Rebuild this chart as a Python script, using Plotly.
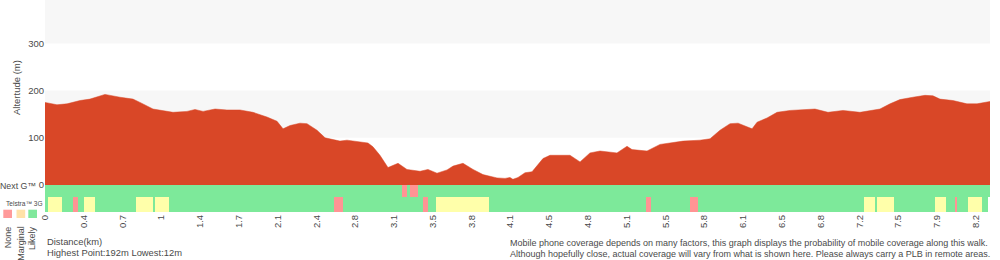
import plotly.graph_objects as go

# ---------------- data ----------------
distance_km = [0.000, 0.106, 0.195, 0.310, 0.398, 0.531, 0.664, 0.779, 0.841, 0.956,
               1.133, 1.257, 1.328, 1.399, 1.505, 1.611, 1.726, 1.841, 1.965, 2.054,
               2.107, 2.169, 2.257, 2.319, 2.408, 2.479, 2.611, 2.673, 2.859, 2.903,
               2.965, 3.036, 3.125, 3.204, 3.320, 3.390, 3.470, 3.559, 3.612, 3.700,
               3.789, 3.877, 4.001, 4.072, 4.116, 4.142, 4.187, 4.249, 4.311, 4.408,
               4.470, 4.647, 4.736, 4.824, 4.913, 5.063, 5.152, 5.196, 5.329, 5.444,
               5.648, 5.798, 5.887, 5.975, 6.064, 6.135, 6.259, 6.303, 6.391, 6.480,
               6.595, 6.816, 6.931, 7.064, 7.214, 7.391, 7.480, 7.568, 7.683, 7.790,
               7.860, 7.922, 8.037, 8.161, 8.250, 8.365]
altitude_m = [175, 170, 172, 179, 182, 192, 186, 182, 175, 161,
              154, 156, 160, 156, 161, 159, 159, 154, 144, 135,
              119, 126, 131, 130, 116, 100, 93, 95, 89, 81,
              63, 37, 46, 33, 29, 33, 25, 32, 40, 46,
              33, 22, 15, 14, 16, 12, 16, 26, 28, 56,
              63, 63, 49, 68, 72, 68, 82, 75, 72, 86,
              93, 95, 98, 116, 130, 131, 119, 133, 142, 154,
              158, 161, 154, 158, 154, 161, 172, 181, 186, 190,
              189, 182, 179, 172, 172, 177]

total_km = 8.365
tick_step_km = 0.3433
tick_labels = ["0", "0.4", "0.7", "1", "1.4", "1.7", "2.1", "2.4", "2.8", "3.1",
               "3.5", "3.8", "4.1", "4.5", "4.8", "5.1", "5.5", "5.8", "6.1", "6.5",
               "6.8", "7.2", "7.5", "7.9", "8.2"]
alt_ticks = [0, 100, 200, 300]

# coverage segments (km start, km end, status)
nextg_start = [3.158, 3.231]
nextg_end = [3.204, 3.299]
nextg_status = ["None", "None"]

g3_start = [0.029, 0.248, 0.345, 0.806, 0.974, 2.558, 3.349, 3.459, 5.320, 5.710,
            7.252, 7.365, 7.878, 8.055, 8.173, 8.345]
g3_end = [0.150, 0.289, 0.443, 0.953, 1.095, 2.635, 3.388, 3.930, 5.364, 5.781,
          7.347, 7.513, 7.976, 8.073, 8.292, 8.365]
g3_status = ["Marginal", "None", "Marginal", "Marginal", "Marginal", "None", "None",
             "Marginal", "None", "None", "Marginal", "Marginal", "Marginal", "None",
             "Marginal", "NoData"]

legend_labels = ["None", "Marginal", "Likely"]

# ---------------- style ----------------
AREA = "#D94727"
COL = {"None": "#FF9494", "Marginal": "#FFFFAA", "Likely": "#7DE99A", "NoData": "#FFFFFF"}
SWATCH = {"None": "#FF9A9A", "Marginal": "#FFE2A8", "Likely": "#80E89C"}
TXT = "#4a4a4a"
FONT = "Liberation Sans, Arial, sans-serif"

W, H = 1000, 260
ML, MR, MT, MB = 45, 10, 0, 48
PW, PH = W - ML - MR, H - MT - MB
COV_PX = 27
NEXTG_PX = 12
def px(x):
    return (x - ML) / PW
def py(y):
    return (PH - y) / PH

fig = go.Figure()

fig.add_trace(go.Scatter(x=distance_km, y=altitude_m, mode="lines", fill="tozeroy",
                         fillcolor=AREA, line=dict(color=AREA, width=0.5),
                         hoverinfo="skip", showlegend=False))

g3_h = (COV_PX - NEXTG_PX) / COV_PX
# background: Likely everywhere
fig.add_trace(go.Bar(x=[total_km / 2], y=[1], base=[0], width=[total_km],
                     marker=dict(color=COL["Likely"], line=dict(width=0)),
                     yaxis="y2", showlegend=False, hoverinfo="skip"))
fig.add_trace(go.Bar(x=[(a + b) / 2 for a, b in zip(g3_start, g3_end)],
                     y=[g3_h] * len(g3_start), base=[0] * len(g3_start),
                     width=[b - a for a, b in zip(g3_start, g3_end)],
                     marker=dict(color=[COL[s] for s in g3_status], line=dict(width=0)),
                     yaxis="y2", showlegend=False, hoverinfo="skip"))
fig.add_trace(go.Bar(x=[(a + b) / 2 for a, b in zip(nextg_start, nextg_end)],
                     y=[1 - g3_h] * len(nextg_start), base=[g3_h] * len(nextg_start),
                     width=[b - a for a, b in zip(nextg_start, nextg_end)],
                     marker=dict(color=[COL[s] for s in nextg_status], line=dict(width=0)),
                     yaxis="y2", showlegend=False, hoverinfo="skip"))

alt_top = 392
dom_split = COV_PX / PH
shapes = []
for y0, y1 in [(100, 200), (300, alt_top)]:
    shapes.append(dict(type="rect", xref="paper", yref="y", x0=0, x1=1, y0=y0, y1=y1,
                       fillcolor="#F7F7F7", line=dict(width=0), layer="below"))
# legend swatches
sw_x = [3.3, 16.5, 28.3]
for lab, x0 in zip(legend_labels, sw_x):
    shapes.append(dict(type="rect", xref="paper", yref="paper",
                       x0=px(x0), x1=px(x0 + 8.7), y0=py(218), y1=py(209.7),
                       fillcolor=SWATCH[lab], line=dict(width=0)))

ann = []
def add_text(text, x, y, size=10, xanchor="left", yanchor="middle", angle=0):
    ann.append(dict(text=text, x=x, y=y, xref="paper", yref="paper", showarrow=False,
                    xanchor=xanchor, yanchor=yanchor, textangle=angle,
                    font=dict(size=size, color=TXT, family=FONT)))

add_text("Altertude (m)", px(16), py(88), size=9.5, xanchor="center", angle=-90)
add_text("Next G™", px(38), py(186), size=8.8, xanchor="right")
add_text("Telstra™ 3G", px(3.5), py(203), size=6.6, xanchor="left")
for lab, xc in zip(legend_labels, [8.3, 20.3, 32]):
    add_text(lab, px(xc), py(224), size=9, xanchor="center", yanchor="top", angle=-90)
add_text("Distance(km)", px(45), py(241), size=9.4)
add_text("Highest Point:%dm Lowest:%dm" % (max(altitude_m), min(altitude_m)), px(45), py(252), size=9.4)
add_text("Mobile phone coverage depends on many factors, this graph displays the probability of mobile coverage along this walk.",
         px(508), py(243), size=9)
add_text("Although hopefully close, actual coverage will vary from what is shown here. Please always carry a PLB in remote areas.",
         px(508), py(254), size=9)

fig.update_layout(
    width=W, height=H, margin=dict(l=ML, r=MR, t=MT, b=MB, pad=0),
    paper_bgcolor="white", plot_bgcolor="white", barmode="overlay", bargap=0,
    showlegend=False, shapes=shapes, annotations=ann,
    font=dict(family=FONT, color=TXT),
    xaxis=dict(range=[0, total_km], tickvals=[i * tick_step_km for i in range(len(tick_labels))],
               ticktext=tick_labels, tickangle=-90, ticks="", showgrid=False, zeroline=False,
               showline=False, tickfont=dict(size=9.5, color=TXT, family=FONT),
               anchor="y2", fixedrange=True),
    yaxis=dict(domain=[dom_split, 1], range=[0, alt_top], tickvals=alt_ticks, ticks="",
               showgrid=False, zeroline=False, showline=False,
               tickfont=dict(size=9.5, color=TXT, family=FONT), fixedrange=True),
    yaxis2=dict(domain=[0, dom_split], range=[0, 1], showticklabels=False, ticks="",
                showgrid=False, zeroline=False, showline=False, fixedrange=True),
)

fig.write_html("out.html")
